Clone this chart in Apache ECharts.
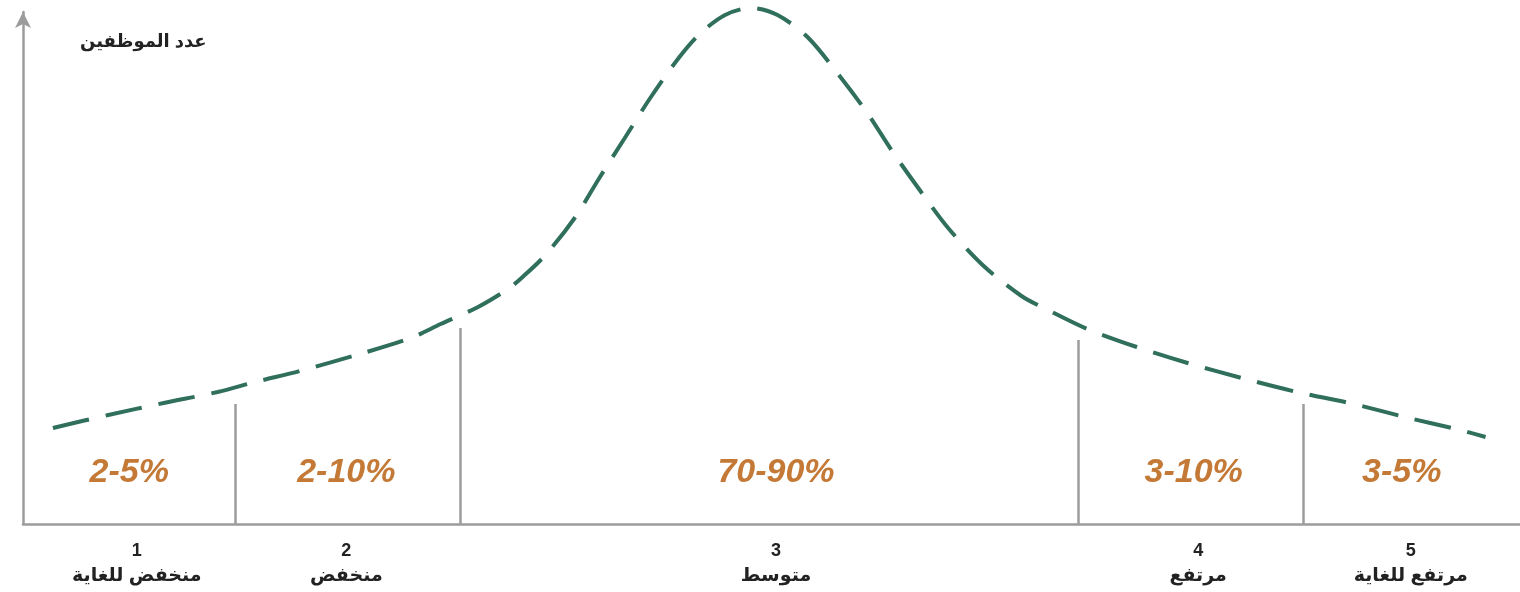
<!DOCTYPE html>
<html>
<head>
<meta charset="utf-8">
<script src="https://cdn.jsdelivr.net/npm/echarts@6/dist/echarts.min.js"></script>
<style>html,body{margin:0;padding:0;background:#fff}#c{width:1520px;height:592px}</style>
</head>
<body>
<div id="c"></div>
<script>
// Bell-shaped distribution curve (x: performance scale 0-100, y: number of employees)
const curveX = [2.0, 5.7, 9.4, 13.0, 15.5, 18.5, 22.5, 25.9, 27.9, 30.4, 32.4, 33.3, 34.9, 36.9, 38.5, 40.2, 41.9, 43.8, 45.2, 46.9, 48.6, 50.4, 52.4, 54.4, 56.4, 58.1, 59.9, 61.8, 64.1, 66.7, 68.6, 71.1, 74.4, 77.8, 81.4, 85.1, 88.6, 92.3, 96.0, 97.7];
const curveY = [19.2, 21.8, 24.2, 26.4, 28.4, 30.6, 34.0, 37.2, 40.0, 43.4, 47.0, 49.2, 53.8, 61.4, 69.2, 77.2, 85.2, 93.2, 98.0, 101.8, 103.2, 101.8, 97.4, 90.2, 82.2, 74.4, 66.8, 59.2, 51.8, 45.6, 42.6, 39.0, 35.4, 32.2, 29.2, 26.4, 24.2, 21.4, 18.8, 17.4];

// Band divider positions and heights
const dividerX = [14.2, 29.2, 70.5, 85.5];
const dividerH = [24, 39.2, 36.8, 24];

// Categories (x-axis labels)
const catNumbers = ['1', '2', '3', '4', '5'];
const catNames = ['منخفض للغاية', 'منخفض', 'متوسط', 'مرتفع', 'مرتفع للغاية'];
const catCenters = [7.6, 21.6, 50.3, 78.5, 92.7];

// Share of employees per band
const shareLabels = ['2-5%', '2-10%', '70-90%', '3-10%', '3-5%'];
const shareX = [7.1, 21.6, 50.3, 78.2, 92.1];
const shareY = 10.2;

const yTitle = 'عدد الموظفين';

const FONT = "'Liberation Sans', 'DejaVu Sans', sans-serif";

const chart = echarts.init(document.getElementById('c'), null, {renderer: 'canvas'});

const dividerLines = dividerX.map((x, i) => [
  {coord: [x, 0]}, {coord: [x, dividerH[i]]}
]);

chart.setOption({
  animation: false,
  backgroundColor: '#ffffff',
  grid: {left: 23, right: 0, top: 12, bottom: 68, containLabel: false},
  xAxis: {
    type: 'value', min: 0, max: 100,
    axisLine: {show: true, lineStyle: {color: '#9c9c9c', width: 2.5}},
    axisTick: {show: false},
    splitLine: {show: false},
    axisLabel: {
      customValues: catCenters,
      margin: 16,
      formatter: function (v) {
        const i = catCenters.indexOf(v);
        if (i < 0) return '';
        return '{n|' + catNumbers[i] + '}\n{t|' + catNames[i] + '}';
      },
      rich: {
        n: {fontFamily: FONT, fontWeight: 'bold', fontSize: 18, color: '#222222', lineHeight: 22, align: 'center'},
        t: {fontFamily: FONT, fontWeight: 'bold', fontSize: 19, color: '#222222', lineHeight: 27, align: 'center'}
      }
    }
  },
  yAxis: {
    type: 'value', min: 0, max: 102.4,
    name: yTitle,
    nameLocation: 'end',
    nameGap: -39,
    nameTextStyle: {fontFamily: FONT, fontWeight: 'bold', fontSize: 18, color: '#222222', align: 'left', padding: [0, 0, 0, 57]},
    axisLine: {show: true, symbol: ['none', 'arrow'], symbolSize: [12, 16], symbolOffset: [0, 0], lineStyle: {color: '#9c9c9c', width: 2.5}},
    axisTick: {show: false},
    axisLabel: {show: false},
    splitLine: {show: false}
  },
  series: [
    {
      type: 'line',
      data: curveX.map((x, i) => [x, curveY[i]]),
      smooth: 0.3,
      clip: false,
      showSymbol: false,
      symbol: 'none',
      lineStyle: {color: '#2f6f5c', width: 4, type: [37, 17], cap: 'butt'},
      markLine: {
        silent: true,
        symbol: 'none',
        label: {show: false},
        lineStyle: {color: '#9c9c9c', width: 2.5, type: 'solid'},
        data: dividerLines
      }
    },
    {
      type: 'scatter',
      symbolSize: 0,
      itemStyle: {opacity: 1},
      data: shareX.map((x, i) => ({value: [x, shareY], name: shareLabels[i]})),
      label: {
        show: true,
        position: 'inside',
        formatter: p => p.name,
        fontFamily: FONT,
        fontWeight: 'bold',
        fontStyle: 'italic',
        fontSize: 34,
        color: '#c47a36',
        opacity: 1
      }
    }
  ]
});
</script>
</body>
</html>
